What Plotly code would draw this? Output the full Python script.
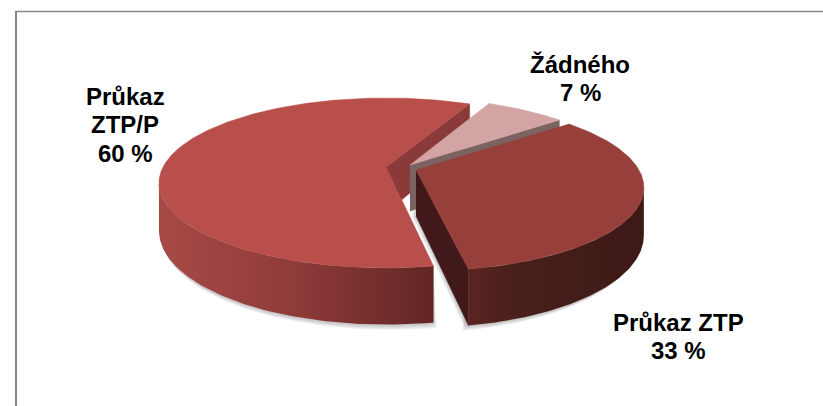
import numpy as np
import plotly.graph_objects as go

# ---- data ----
categories = ["Žádného", "Průkaz ZTP", "Průkaz ZTP/P"]
values = [7, 33, 60]
value_labels = ["7 %", "33 %", "60 %"]

# ---- style / geometry of the 3D view ----
start_deg = 26.0           # clockwise from north
RX, RY, K = 223.0, 82.0, 0.188
DEPTH = 46.0
apexes = [(410.0, 165.0), (416.0, 170.0), (386.0, 167.0)]
radii = [0.975, 1.0, 1.0]
shears = [0.06, 0.05, 0.0]
top_colors = ["#D2A5A4", "#973F3B", "#B94F4B"]
wall_colors = ["#7B6362", "#41191A", "#8A3A38"]
side_scales = [
    None,
    [[0, "#5A2421"], [0.3, "#47201B"], [1, "#3D1816"]],
    [[0, "#A84A47"], [0.5, "#8E3B39"], [1, "#622625"]],
]
label_lines = [["Žádného"], ["Průkaz ZTP"], ["Průkaz", "ZTP/P"]]
label_centers = [580, 678, 125]
label_tops = [64, 322, 96]
LINE_H = 28.5
FONT = dict(family="Liberation Sans, Arial, sans-serif", size=24, color="#000000")
FRAME = "#878787"


def project(ax, ay, th, r, shear):
    u, v = r * np.sin(th), r * np.cos(th)
    w = 1 + K * v
    y = ay - RY * v / w
    return ax + RX * u / w + shear * (y - ay), y, DEPTH / w, v


def poly(x, y, color, name):
    return go.Scatter(x=list(x), y=list(y), mode="lines", fill="toself",
                      fillcolor=color, line=dict(color=color, width=0.5),
                      hoverinfo="skip", name=name)


fig = go.Figure()

# slice angular ranges from values
cum = np.cumsum([0] + values) / sum(values) * 2 * np.pi + np.deg2rad(start_deg)
slices = []
for i in range(len(values)):
    th = np.linspace(cum[i], cum[i + 1], 240)
    slices.append(project(*apexes[i], th, radii[i], shears[i]))

# soft shadows below the two front slices
for i in (2, 1):
    X, Y, H, V = slices[i]
    m = V <= -K
    ax_, ay_ = apexes[i]
    for d in (1, 2, 3, 4, 5):
        sx = -1.2 * d if i == 1 else 0.6 * d
        lx = np.r_[X[m], X[m][::-1] + sx]
        ly = np.r_[Y[m], (Y + H)[m][::-1] + d]
        fig.add_trace(poly(lx, ly, "rgba(90,90,90,0.07)", "shadow"))
    if i == 1:
        for d in (1, 2, 3, 4):
            lx = [ax_ - d, X[-1] - d, X[-1] - d, ax_ - d]
            ly = [ay_ + DEPTH, Y[-1] + H[-1] + 1, Y[-1], ay_]
            fig.add_trace(poly(lx, ly, "rgba(90,90,90,0.08)", "shadow"))

# draw order: large slice, small slice, medium slice
for i in (2, 0, 1):
    X, Y, H, V = slices[i]
    ax_, ay_ = apexes[i]
    # radial wall
    wx = [ax_, X[-1], X[-1], ax_]
    wy = [ay_, Y[-1], Y[-1] + H[-1], ay_ + DEPTH]
    fig.add_trace(poly(wx, wy, wall_colors[i], categories[i] + " wall"))
    # outer side
    if side_scales[i] is not None:
        m = V <= -K
        sx = np.r_[X[m], X[m][::-1]]
        sy = np.r_[Y[m], (Y + H)[m][::-1]]
        lo, hi = float(X[m].min()), float(X[m].max())
        base = poly(sx, sy, side_scales[i][0][1], categories[i] + " side")
        base.update(fillgradient=dict(type="horizontal", colorscale=side_scales[i], start=lo, stop=hi),
                    line=dict(width=0))
        fig.add_trace(base)
    # top face
    fig.add_trace(poly(np.r_[ax_, X, ax_], np.r_[ay_, Y, ay_], top_colors[i], categories[i]))

# labels
for lines, val, cx, top in zip(label_lines, value_labels, label_centers, label_tops):
    for j, t in enumerate(lines + [val]):
        fig.add_annotation(x=cx, y=top + j * LINE_H, text=f"<b>{t}</b>", showarrow=False,
                           xanchor="center", yanchor="middle", font=FONT)

# frame
fig.add_shape(type="line", x0=15, x1=823, y0=11.5, y1=11.5, line=dict(color=FRAME, width=1.5))
fig.add_shape(type="line", x0=16, x1=16, y0=11, y1=406, line=dict(color=FRAME, width=2))

fig.update_layout(
    width=823, height=406, margin=dict(l=0, r=0, t=0, b=0),
    paper_bgcolor="#FFFFFF", plot_bgcolor="#FFFFFF", showlegend=False,
    xaxis=dict(range=[0, 823], visible=False, fixedrange=True),
    yaxis=dict(range=[406, 0], visible=False, fixedrange=True),
)
fig.write_html("out.html", config=dict(displayModeBar=False),
               post_script="document.body.style.margin='0';document.body.style.overflow='hidden';")
